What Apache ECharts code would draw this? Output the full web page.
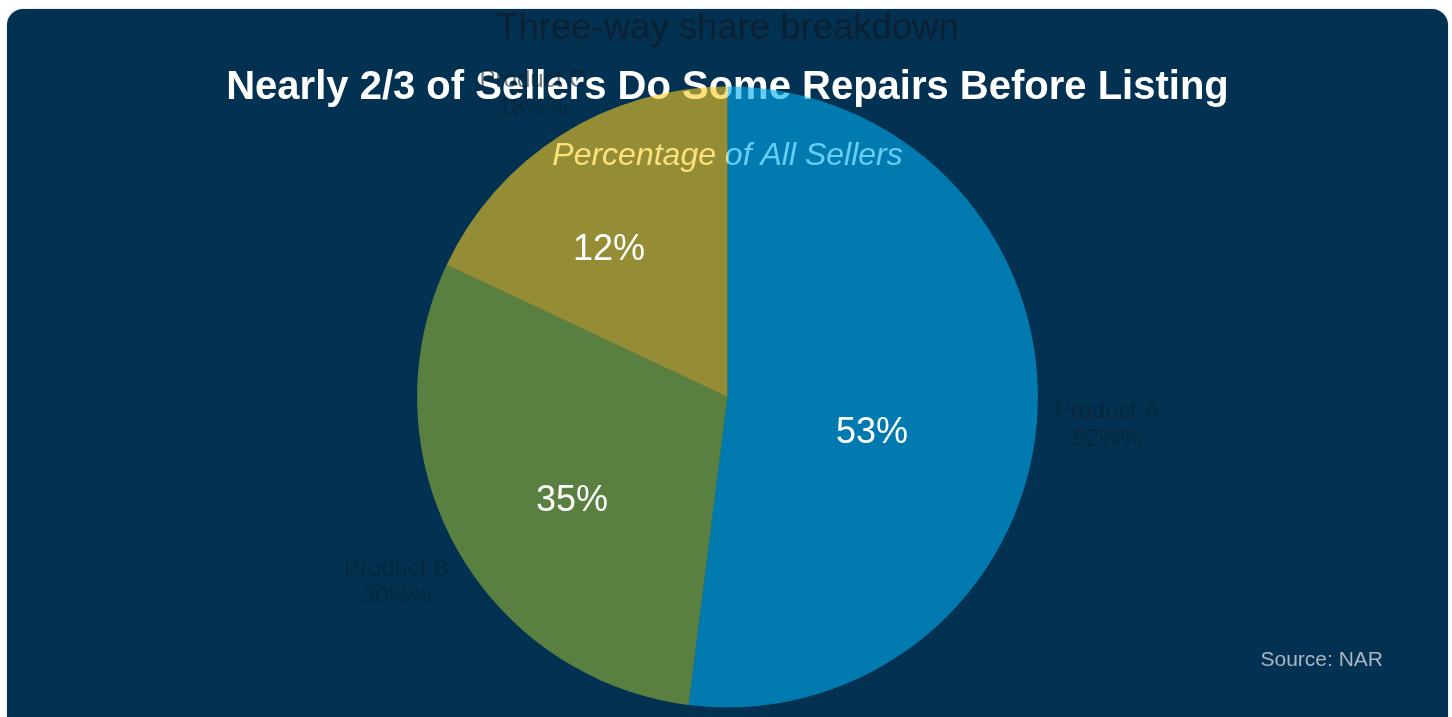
<!DOCTYPE html>
<html>
<head>
<meta charset="utf-8">
<title>Seller repairs before listing</title>
<script src="https://cdn.jsdelivr.net/npm/echarts@6/dist/echarts.min.js"></script>
<style>
  body { margin: 0; background: #fff; }
  .card {
    position: absolute; left: 7px; top: 9px;
    width: 1441px; height: 776px;
    background: #023151; border-radius: 16px;
    box-shadow: 0 0 2px rgba(0, 0, 0, 0.25);
    overflow: hidden;
  }
  #main { width: 100%; height: 100%; }
</style>
</head>
<body>
<div class="card"><div id="main"></div></div>
<script>
// data
const categories = ['Product A', 'Product B', 'Product C'];
const shares = [52, 30, 18];
const sliceColors = ['#00acee', '#94b637', '#f8cc25'];
// the big numbers printed on the slices (they don't match the shares in the original)
const sliceTexts = ['53%', '35%', '12%'];

const total = shares.reduce((a, b) => a + b, 0);
const font = '"Liberation Sans", Arial, sans-serif';

const chart = echarts.init(document.getElementById('main'));

// outer labels sit radially just off the rim, centred on the slice's mid angle
function outerLabel(p) {
  const w = chart.getWidth(), h = chart.getHeight();
  const cx = w / 2, cy = h / 2, r = Math.min(w, h) / 2 * 0.8;
  const before = shares.slice(0, p.dataIndex).reduce((a, b) => a + b, 0);
  const mid = (before + shares[p.dataIndex] / 2) / total * Math.PI * 2;
  const ux = Math.sin(mid), uy = -Math.cos(mid);
  const d = r + 17 + Math.abs(ux) * p.labelRect.width / 2 + Math.abs(uy) * p.labelRect.height * 0.15;
  return { x: cx + ux * d, y: cy + uy * d + 4, align: 'center', verticalAlign: 'middle' };
}

const option = {
  animation: false,
  textStyle: { fontFamily: font },
  title: [
    {
      text: 'Three-way share breakdown',
      left: 'center', top: 1, padding: 0, z: 0,
      textStyle: { fontSize: 36.5, fontWeight: 'normal', color: '#0b2133', fontFamily: font }
    },
    {
      text: 'Nearly 2/3 of Sellers Do Some Repairs Before Listing',
      left: 'center', top: 59, padding: 0, z: 0,
      textStyle: { fontSize: 40, fontWeight: 'bold', color: '#ffffff', fontFamily: font }
    },
    {
      text: 'Percentage of All Sellers',
      left: 'center', top: 131, padding: 0, z: 0,
      textStyle: { fontSize: 32, fontWeight: 'normal', fontStyle: 'italic', color: '#ffffff', fontFamily: font }
    }
  ],
  color: sliceColors,
  series: [{
    type: 'pie',
    z: 2,
    radius: '80%',
    center: ['50%', '50%'],
    startAngle: 90,
    clockwise: true,
    itemStyle: { opacity: 0.6 },
    emphasis: { disabled: true },
    label: {
      show: true,
      position: 'outside',
      formatter: (p) => p.name + '\n' + p.value + '%%',
      fontSize: 24,
      lineHeight: 28,
      align: 'center',
      color: '#0b2133',
      fontFamily: font
    },
    labelLine: { show: false },
    labelLayout: outerLabel,
    data: categories.map((name, i) => ({ name: name, value: shares[i] }))
  }],
  graphic: [
    { type: 'text', x: 865, y: 424, z: 10, style: { text: sliceTexts[0], fill: '#fff', font: '36px ' + font, textAlign: 'center', textVerticalAlign: 'middle' } },
    { type: 'text', x: 565, y: 492, z: 10, style: { text: sliceTexts[1], fill: '#fff', font: '36px ' + font, textAlign: 'center', textVerticalAlign: 'middle' } },
    { type: 'text', x: 602, y: 241, z: 10, style: { text: sliceTexts[2], fill: '#fff', font: '36px ' + font, textAlign: 'center', textVerticalAlign: 'middle' } },
    { type: 'text', right: 65, top: 641, z: 10, style: { text: 'Source: NAR', fill: '#a9b5c1', font: '21px ' + font } }
  ]
};

chart.setOption(option);
</script>
</body>
</html>
